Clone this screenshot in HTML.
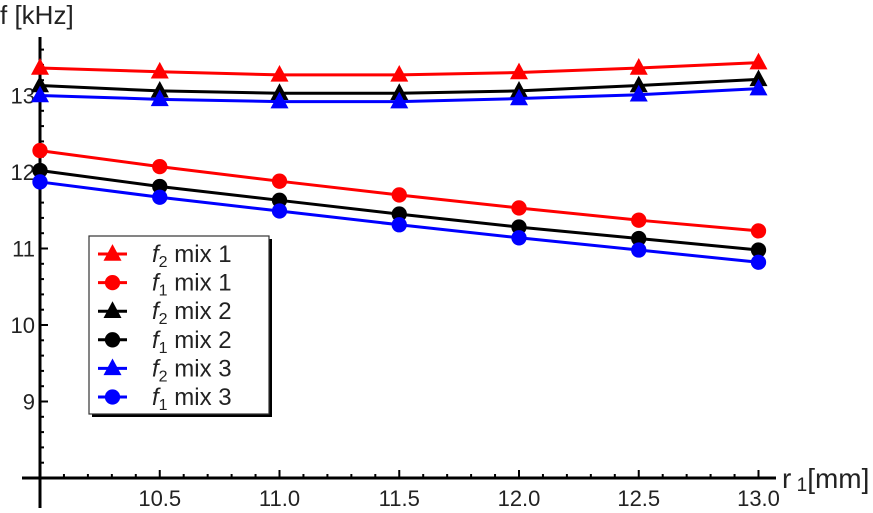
<!DOCTYPE html>
<html><head><meta charset="utf-8"><style>
html,body{margin:0;padding:0;background:#fff;}
svg text{font-family:"Liberation Sans",sans-serif;fill:#222;}
</style></head><body>
<svg id="chart" width="873" height="508" viewBox="0 0 873 508" xmlns="http://www.w3.org/2000/svg">
<g id="axes"></g>
<g id="series"></g>
<g id="legend"></g>
</svg>
<script>
const xValues = [10, 10.5, 11, 11.5, 12, 12.5, 13];
const f2mix1 = [13.36, 13.31, 13.27, 13.27, 13.30, 13.36, 13.43];
const f1mix1 = [12.28, 12.07, 11.88, 11.70, 11.53, 11.37, 11.23];
const f2mix2 = [13.13, 13.06, 13.03, 13.03, 13.06, 13.13, 13.21];
const f1mix2 = [12.02, 11.81, 11.63, 11.45, 11.28, 11.13, 10.98];
const f2mix3 = [13.00, 12.95, 12.92, 12.92, 12.96, 13.01, 13.09];
const f1mix3 = [11.87, 11.67, 11.49, 11.31, 11.14, 10.98, 10.82];
const xTickLabels = ["10.5", "11.0", "11.5", "12.0", "12.5", "13.0"];
const yTickLabels = ["9", "10", "11", "12", "13"];
const seriesNames = ["f2 mix 1", "f1 mix 1", "f2 mix 2", "f1 mix 2", "f2 mix 3", "f1 mix 3"];

const NS = "http://www.w3.org/2000/svg";
const X = v => 40 + (v - 10) * 239.5;
const Y = v => 478 - (v - 8) * 76.5;
function mk(tag, attrs, parent) {
  const e = document.createElementNS(NS, tag);
  for (const k in attrs) e.setAttribute(k, attrs[k]);
  parent.appendChild(e);
  return e;
}
const axes = document.getElementById('axes');
const ser = document.getElementById('series');
const leg = document.getElementById('legend');

let a = mk('line', {x1: 40, y1: 37, x2: 40, y2: 508, stroke: '#000', 'stroke-width': 3}, axes);


a = mk('line', {x1: 22, y1: 478, x2: 776, y2: 478, stroke: '#000', 'stroke-width': 3}, axes);



for (let v = 10.1; v <= 13.001; v += 0.1) {
  const major = Math.abs(v * 2 - Math.round(v * 2)) < 0.01;
  const t = mk('line', {x1: X(v), y1: 478, x2: X(v), y2: major ? 470 : 474, stroke: '#000', 'stroke-width': 2}, axes);
  
  
}
xTickLabels.forEach(s => {
  const t = mk('text', {x: X(parseFloat(s)), y: 506, 'text-anchor': 'middle', 'font-size': 22}, axes);
  t.textContent = s;
  
  
});
for (let v = 8.2; v <= 13.6; v += 0.2) {
  const major = Math.abs(v - Math.round(v)) < 0.01;
  const t = mk('line', {x1: 40, y1: Y(v), x2: major ? 48 : 44, y2: Y(v), stroke: '#000', 'stroke-width': 2}, axes);
  
  
}
yTickLabels.forEach(s => {
  const t = mk('text', {x: 35, y: Y(parseFloat(s)) + 8, 'text-anchor': 'end', 'font-size': 22}, axes);
  t.textContent = s;
  
  
});
let lab = mk('text', {x: 0, y: 24, 'font-size': 26}, axes);
lab.textContent = 'f [kHz]';


lab = mk('text', {x: 782, y: 488, 'font-size': 28}, axes);
lab.innerHTML = 'r<tspan font-size="19" dy="3"> 1</tspan><tspan dy="-3">[mm]</tspan>';



function marker(parent, type, cx, cy, color, r) {
  let m;
  if (type === 'tri') {
    m = mk('polygon', {points: `${cx},${cy - r * 1.1} ${cx - r},${cy + r * 0.75} ${cx + r},${cy + r * 0.75}`, fill: color}, parent);
  } else {
    m = mk('circle', {cx: cx, cy: cy, r: r * 0.85, fill: color}, parent);
  }
  return m;
}
const allSeries = [
  [f2mix1, 'red', 'tri', 'f2-mix-1'], [f1mix1, 'red', 'dot', 'f1-mix-1'],
  [f2mix2, 'black', 'tri', 'f2-mix-2'], [f1mix2, 'black', 'dot', 'f1-mix-2'],
  [f2mix3, 'blue', 'tri', 'f2-mix-3'], [f1mix3, 'blue', 'dot', 'f1-mix-3']];
const colors = {red: '#f00', black: '#000', blue: '#00f'};
allSeries.forEach(([vals, c, type, name]) => {
  const g = mk('g', {}, ser);
  
  
  const pl = mk('polyline', {points: vals.map((v, i) => X(xValues[i]) + ',' + Y(v)).join(' '), fill: 'none', stroke: colors[c], 'stroke-width': 3}, g);
  
  
  vals.forEach((v, i) => {
    const m = marker(g, type, X(xValues[i]), Y(v), colors[c], 9);
    
    
  });
});

let sh = mk('rect', {x: 92, y: 239, width: 180, height: 178, fill: '#000'}, leg);


let box = mk('rect', {x: 89, y: 236, width: 180, height: 178, fill: '#fff', stroke: '#333', 'stroke-width': 1.2}, leg);


allSeries.forEach(([vals, c, type, name], i) => {
  const cy = 254 + i * 28.6;
  const g = mk('g', {}, leg);
  
  
  mk('line', {x1: 98, y1: cy, x2: 127, y2: cy, stroke: colors[c], 'stroke-width': 3}, g);
  marker(g, type, 112.5, cy, colors[c], 9);
  const t = mk('text', {x: 152, y: cy + 8, 'font-size': 24}, g);
  const sub = seriesNames[i].charAt(1);
  t.innerHTML = '<tspan font-style="italic">f</tspan><tspan font-size="16" dy="5">' + sub + '</tspan><tspan dy="-5"> ' + seriesNames[i].slice(3) + '</tspan>';
});
</script>
</body></html>
